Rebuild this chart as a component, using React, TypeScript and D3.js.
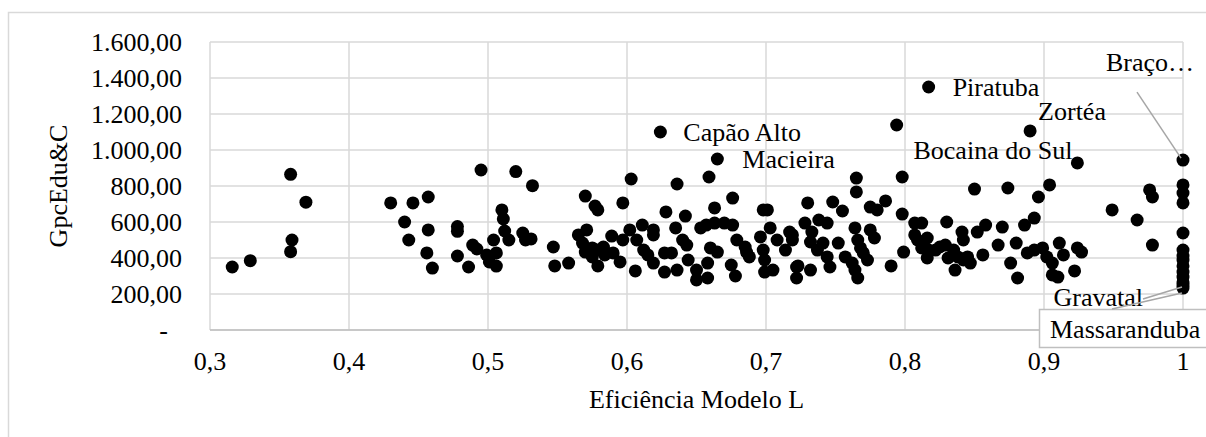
import React from 'react';
import * as d3 from 'd3';

// Eficiência Modelo L (x) vs GpcEdu&C (y), unlabelled municipalities
const points: [number, number][] = [
  [0.316, 350], [0.329, 385], [0.358, 865], [0.359, 500], [0.358, 435], [0.369, 710],
  [0.430, 706], [0.440, 600], [0.443, 500], [0.446, 706], [0.457, 739], [0.457, 556],
  [0.456, 428], [0.460, 344], [0.478, 575], [0.478, 548], [0.478, 411], [0.486, 350],
  [0.489, 472], [0.492, 450], [0.495, 889], [0.499, 417], [0.501, 378], [0.506, 355],
  [0.504, 500], [0.506, 428], [0.510, 667], [0.511, 617], [0.512, 550], [0.515, 500],
  [0.520, 880], [0.525, 539], [0.527, 500], [0.531, 506], [0.532, 802], [0.547, 461],
  [0.548, 356], [0.558, 372],
  [0.565, 528], [0.571, 556], [0.568, 483], [0.570, 744], [0.577, 689], [0.579, 667],
  [0.575, 456], [0.579, 444], [0.583, 461], [0.575, 406], [0.579, 356], [0.584, 417],
  [0.570, 433], [0.589, 522], [0.583, 456], [0.590, 428], [0.595, 378], [0.597, 706],
  [0.597, 500],
  [0.603, 839], [0.602, 556], [0.607, 500], [0.606, 328], [0.611, 583], [0.612, 444],
  [0.615, 417], [0.619, 372], [0.619, 556], [0.619, 528], [0.627, 428], [0.632, 428],
  [0.627, 322], [0.636, 333], [0.628, 656], [0.635, 567], [0.636, 811], [0.640, 500],
  [0.643, 472], [0.644, 389], [0.642, 633], [0.650, 278], [0.658, 289], [0.650, 333],
  [0.653, 567], [0.657, 583], [0.663, 594], [0.659, 850], [0.663, 678], [0.660, 456],
  [0.665, 433], [0.658, 372],
  [0.670, 594], [0.676, 583], [0.676, 733], [0.675, 361], [0.678, 300], [0.679, 500],
  [0.685, 461], [0.688, 406], [0.686, 433], [0.698, 667], [0.701, 667], [0.696, 517],
  [0.703, 567], [0.708, 500], [0.714, 444], [0.698, 444], [0.699, 389], [0.699, 322],
  [0.705, 333], [0.717, 544], [0.719, 500], [0.722, 350], [0.722, 289],
  [0.719, 528], [0.728, 594], [0.730, 706], [0.733, 544], [0.738, 611], [0.744, 594],
  [0.732, 489], [0.737, 444], [0.741, 483], [0.744, 406], [0.746, 350], [0.752, 483],
  [0.723, 356], [0.732, 333], [0.748, 711], [0.755, 661], [0.765, 844], [0.765, 767],
  [0.764, 567], [0.766, 500], [0.768, 456], [0.775, 556], [0.778, 511], [0.757, 406],
  [0.762, 372], [0.764, 333], [0.766, 289], [0.770, 428], [0.773, 389], [0.775, 683],
  [0.780, 667], [0.786, 717], [0.790, 356], [0.794, 1139], [0.798, 850], [0.798, 644],
  [0.799, 433],
  [0.807, 594], [0.812, 594], [0.807, 528], [0.809, 500], [0.816, 511], [0.812, 456],
  [0.817, 444], [0.816, 400], [0.822, 444], [0.825, 461], [0.829, 472], [0.831, 400],
  [0.835, 444], [0.836, 333], [0.841, 544], [0.842, 500], [0.845, 406], [0.847, 372],
  [0.830, 600], [0.850, 783], [0.852, 544], [0.858, 583], [0.856, 417], [0.867, 472],
  [0.870, 572], [0.874, 789], [0.876, 372], [0.880, 483], [0.881, 289], [0.886, 583],
  [0.888, 428], [0.893, 622], [0.896, 739], [0.893, 444], [0.838, 406], [0.842, 389],
  [0.904, 806], [0.899, 456], [0.902, 406], [0.906, 372], [0.906, 306], [0.910, 294],
  [0.911, 483], [0.914, 417], [0.922, 328], [0.924, 456], [0.927, 433], [0.949, 667],
  [0.967, 611], [0.976, 778], [0.978, 739], [0.978, 472],
  [1, 806], [1, 761], [1, 706], [1, 539], [1, 444], [1, 411], [1, 389], [1, 356],
  [1, 322], [1, 294], [1, 267],
];

// labelled municipalities
const labelNames = ['Capão Alto', 'Macieira', 'Piratuba', 'Zortéa', 'Bocaina do Sul', 'Braço…', 'Gravatal', 'Massaranduba'];
const labelX = [0.624, 0.665, 0.817, 0.890, 0.924, 1, 1, 1];
const labelY = [1100, 950, 1350, 1106, 928, 944, 250, 233];

const xTicks = [0.3, 0.4, 0.5, 0.6, 0.7, 0.8, 0.9, 1];
const yTicks = [0, 200, 400, 600, 800, 1000, 1200, 1400, 1600];

const FONT = '"Liberation Serif", "Times New Roman", serif';
const GRID = '#d9d9d9';

export default function App() {
  const x = d3.scaleLinear().domain([0.3, 1]).range([210, 1183]);
  const y = d3.scaleLinear().domain([0, 1600]).range([330, 42]);

  const br = d3.formatLocale({ decimal: ',', thousands: '.', grouping: [3], currency: ['R$', ''] });
  const fy = br.format(',.2f');
  const fx = br.format('.1~f');

  const lx = labelX.map(v => x(v));
  const ly = labelY.map(v => y(v));

  return (
    <svg width={1206} height={437} style={{ position: 'absolute', left: 0, top: 0, background: '#fff' }}
      fontFamily={FONT} fontSize={26}>
      <rect x={8.5} y={12.5} width={1300} height={600} fill="#fff" stroke={GRID} strokeWidth={1.5} />

      {/* grid */}
      {yTicks.map(t => (
        <line key={'gy' + t} x1={x(0.3)} x2={x(1)} y1={y(t)} y2={y(t)} stroke={GRID} strokeWidth={1.5} />
      ))}
      {xTicks.map(t => (
        <line key={'gx' + t} x1={x(t)} x2={x(t)} y1={y(0)} y2={y(1600)} stroke={GRID} strokeWidth={1.5} />
      ))}
      <line x1={x(0.3)} x2={x(1)} y1={y(0)} y2={y(0)} stroke="#bfbfbf" strokeWidth={1.5} />

      {/* tick labels */}
      {yTicks.map(t => (
        <text key={'ty' + t} x={t === 0 ? 168 : 182} y={y(t)} dy={9} textAnchor="end" fill="#000">
          {t === 0 ? '-' : fy(t)}
        </text>
      ))}
      {xTicks.map(t => (
        <text key={'tx' + t} x={x(t)} y={370} textAnchor="middle" fill="#000">{fx(t)}</text>
      ))}

      <text x={(x(0.3) + x(1)) / 2} y={408} textAnchor="middle">Eficiência Modelo L</text>
      <text transform={`translate(67,${(y(0) + y(1600)) / 2}) rotate(-90)`} textAnchor="middle">GpcEdu&amp;C</text>

      {/* points */}
      {points.map((p, i) => (
        <circle key={i} cx={x(p[0])} cy={y(p[1])} r={6.5} fill="#000" />
      ))}
      {labelX.map((v, i) => (
        <circle key={'l' + i} cx={lx[i]} cy={ly[i]} r={6.5} fill="#000" />
      ))}

      {/* data labels */}
      <text x={lx[0] + 23} y={ly[0]} dy={9}>{labelNames[0]}</text>
      <text x={lx[1] + 25} y={ly[1]} dy={9}>{labelNames[1]}</text>
      <text x={lx[2] + 24} y={ly[2]} dy={9}>{labelNames[2]}</text>
      <text x={lx[3] + 8} y={ly[3] - 20} dy={9}>{labelNames[3]}</text>
      <text x={lx[4] - 5} y={ly[4] - 13} dy={9} textAnchor="end">{labelNames[4]}</text>
      <text x={lx[5] - 77} y={ly[5] - 98} dy={9}>{labelNames[5]}</text>
      <line x1={lx[5] - 46} y1={ly[5] - 68} x2={lx[5] - 2} y2={ly[5] - 2} stroke="#a6a6a6" strokeWidth={1.5} />

      <line x1={lx[6] - 40} y1={ly[6] + 14} x2={lx[6] - 1} y2={ly[6] + 2} stroke="#a6a6a6" strokeWidth={1.5} />
      <text x={lx[6] - 40} y={ly[6] + 12} dy={9} textAnchor="end">{labelNames[6]}</text>

      <rect x={1039.5} y={309.5} width={200} height={38} fill="#fff" stroke="#bfbfbf" strokeWidth={1.5} />
      <line x1={1112} y1={309} x2={lx[7] - 1} y2={ly[7] + 5} stroke="#a6a6a6" strokeWidth={1.5} />
      <text x={1050} y={329} dy={9}>{labelNames[7]}</text>
    </svg>
  );
}
